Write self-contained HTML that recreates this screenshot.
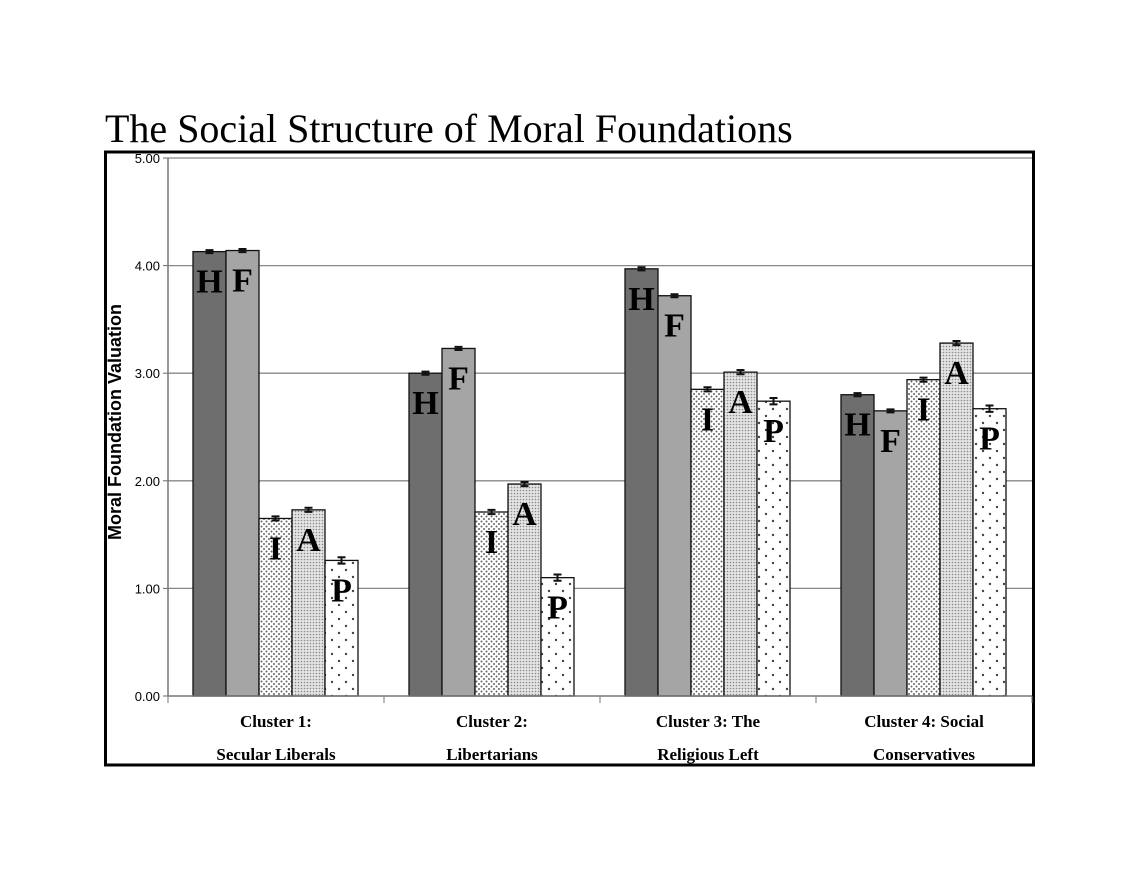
<!DOCTYPE html>
<html><head><meta charset="utf-8"><style>
html,body{margin:0;padding:0;background:#fff;width:1140px;height:881px;overflow:hidden}
svg{display:block}
</style></head><body>
<svg id="chart" width="1140" height="881" xmlns="http://www.w3.org/2000/svg">
<defs>
<pattern id="patI" width="5" height="5" patternUnits="userSpaceOnUse"><rect width="5" height="5" fill="#fff"/><circle cx="1.5" cy="1.5" r="1" fill="#666"/><circle cx="4" cy="4" r="1" fill="#666"/></pattern>
<pattern id="patA" width="3" height="3" patternUnits="userSpaceOnUse"><rect width="3" height="3" fill="#e4e4e4"/><circle cx="1.5" cy="1.5" r="0.8" fill="#888"/></pattern>
<pattern id="patP" width="14" height="14" patternUnits="userSpaceOnUse"><rect width="14" height="14" fill="#fff"/><circle cx="3" cy="3" r="1.2" fill="#444"/><circle cx="10" cy="10" r="1.2" fill="#444"/></pattern>
</defs>
<text x="105" y="142" font-family="Liberation Serif, serif" font-size="40" fill="#000">The Social Structure of Moral Foundations</text>
<rect x="105.5" y="152" width="928" height="613" fill="none" stroke="#000" stroke-width="3"/>
<g id="grid"></g><g id="bars"></g><g id="axes"></g>
<text transform="translate(121,422) rotate(-90)" text-anchor="middle" font-family="Liberation Sans, sans-serif" font-weight="bold" font-size="18">Moral Foundation Valuation</text>
</svg>
<script>
const clusters1 = ["Cluster 1:","Cluster 2:","Cluster 3: The","Cluster 4: Social"];
const clusters2 = ["Secular Liberals","Libertarians","Religious Left","Conservatives"];
const foundations = ["H","F","I","A","P"];
const valsH = [4.13,3.00,3.97,2.80];
const valsF = [4.14,3.23,3.72,2.65];
const valsI = [1.65,1.71,2.85,2.94];
const valsA = [1.73,1.97,3.01,3.28];
const valsP = [1.26,1.10,2.74,2.67];
const errs = [0.005,0.005,0.01,0.01,0.02];
const yTicks = [0,1,2,3,4,5];
const yTickLabels = ["0.00","1.00","2.00","3.00","4.00","5.00"];

const NS="http://www.w3.org/2000/svg";
const x0=168,x1=1032,y0=696,y5=158;
const yS=v=>y0-(y0-y5)*v/5;
const gw=(x1-x0)/clusters1.length;
const bw=33;
const barX=(c,k)=>x0+c*gw+25+k*bw;
const fills=["#6e6e6e","#a5a5a5","url(#patI)","url(#patA)","url(#patP)"];
const series=[valsH,valsF,valsI,valsA,valsP];
function mk(t,a,p){const e=document.createElementNS(NS,t);for(const k in a)e.setAttribute(k,a[k]);p.appendChild(e);return e;}
const grid=document.getElementById('grid'),bars=document.getElementById('bars'),axes=document.getElementById('axes');
yTicks.forEach((t,i)=>{
  if(t>0){const l=mk('line',{x1:x0,x2:x1,y1:yS(t),y2:yS(t),stroke:'#888','stroke-width':1.3},grid);
  
  }
  const tk=mk('line',{x1:x0-5,x2:x0,y1:yS(t),y2:yS(t),stroke:'#666'},axes);
  
  
  const tx=mk('text',{x:x0-8,y:yS(t)+5,'text-anchor':'end','font-family':'Liberation Sans, sans-serif','font-size':13},axes);
  tx.textContent=yTickLabels[i];
  
  
});
const ya=mk('line',{x1:x0,x2:x0,y1:y5,y2:y0,stroke:'#777','stroke-width':1.5},axes);


const xa=mk('line',{x1:x0,x2:x1,y1:y0,y2:y0,stroke:'#777','stroke-width':1.5},axes);


for(let c=0;c<=clusters1.length;c++){const t=mk('line',{x1:x0+c*gw,x2:x0+c*gw,y1:y0,y2:y0+7,stroke:'#777'},axes);

}
clusters1.forEach((c,i)=>{
  const cx=x0+gw*i+gw/2;
  const a=mk('text',{x:cx,y:727,'text-anchor':'middle','font-family':'Liberation Serif, serif','font-weight':'bold','font-size':17},axes);
  a.textContent=c;
  
  
  const b=mk('text',{x:cx,y:760,'text-anchor':'middle','font-family':'Liberation Serif, serif','font-weight':'bold','font-size':17},axes);
  b.textContent=clusters2[i];
  
  
});
series.forEach((vals,k)=>{
  vals.forEach((v,c)=>{
    const x=barX(c,k),y=yS(v);
    const r=mk('rect',{x:x,y:y,width:bw,height:y0-y,fill:fills[k],stroke:'#111','stroke-width':1.3},bars);
    
    
    const e=(y0-y5)*errs[k]/5+1;
    const eb=mk('path',{d:`M${x+bw/2-4},${y-e}H${x+bw/2+4}M${x+bw/2-4},${y+e}H${x+bw/2+4}M${x+bw/2},${y-e}V${y+e}`,stroke:'#111','stroke-width':2,fill:'none'},bars);
    
    
    const t=mk('text',{x:x+bw/2,y:y+41,'text-anchor':'middle','font-family':'Liberation Serif, serif','font-weight':'bold','font-size':34,fill:'#000'},bars);
    t.textContent=foundations[k];
    
    
  });
});
</script>
</body></html>
